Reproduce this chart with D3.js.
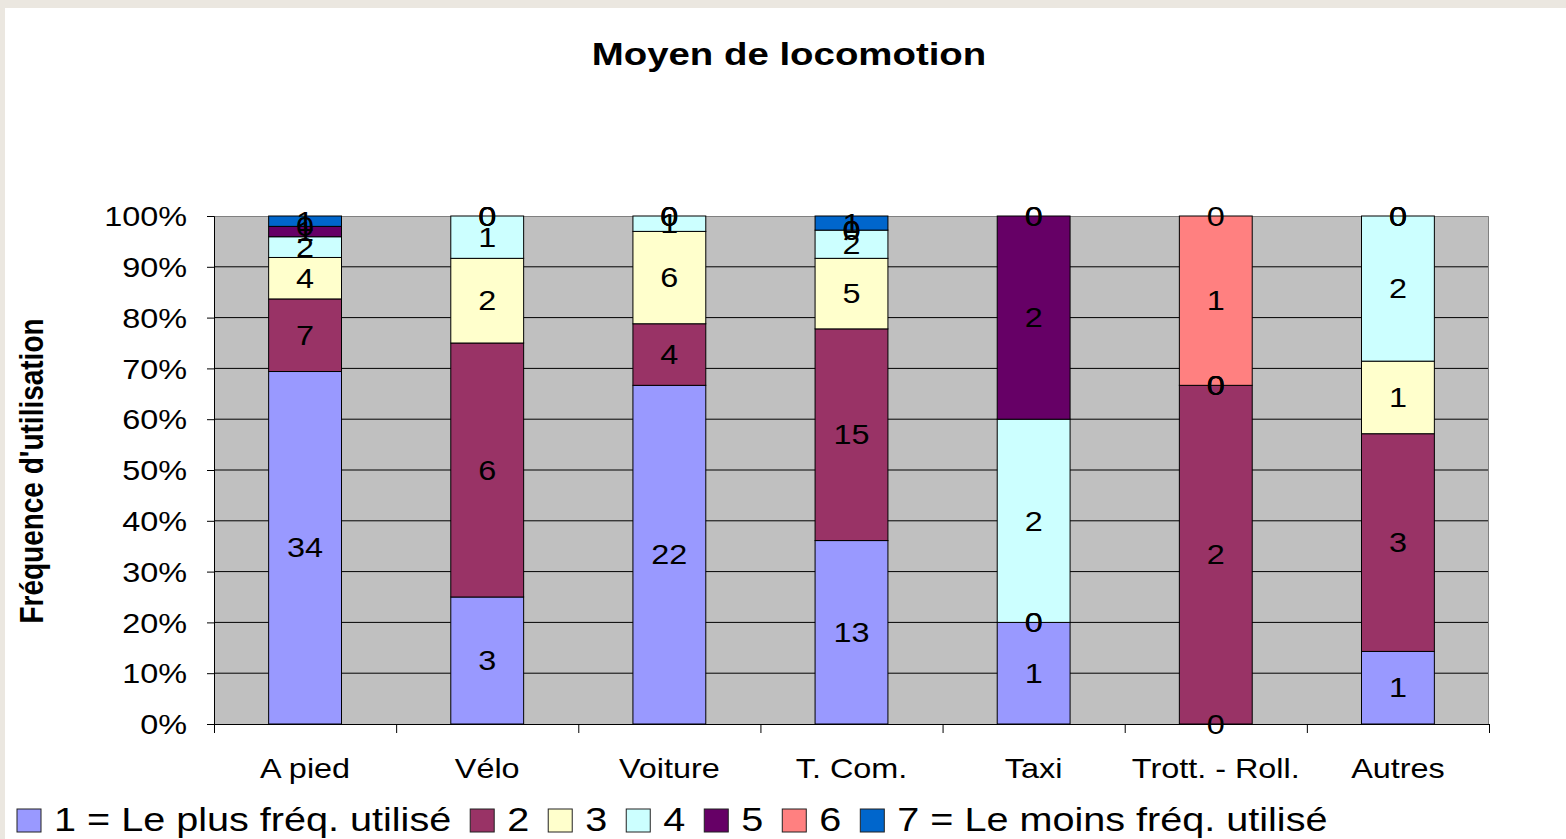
<!DOCTYPE html>
<html>
<head>
<meta charset="utf-8">
<script src="https://cdn.jsdelivr.net/npm/d3@7"></script>
<style>
  html, body { margin: 0; padding: 0; background: #fff; }
  svg { display: block; font-family: "Liberation Sans", Arial, sans-serif; }
</style>
</head>
<body>
<div id="chart"></div>
<script>
// categories (x axis)
const categories = ["A pied", "Vélo", "Voiture", "T. Com.", "Taxi", "Trott. - Roll.", "Autres"]
// series names (legend)
const seriesNames = ["1 = Le plus fréq. utilisé", "2", "3", "4", "5", "6", "7 = Le moins fréq. utilisé"]
const seriesColors = ["#9999FF", "#993366", "#FFFFCC", "#CCFFFF", "#660066", "#FF8080", "#0066CC"]
// counts per series, one value per category
const s1 = [34, 3, 22, 13, 1, 0, 1]
const s2 = [7, 6, 4, 15, 0, 2, 3]
const s3 = [4, 2, 6, 5, 0, 0, 1]
const s4 = [2, 1, 1, 2, 2, 0, 2]
const s5 = [1, 0, 0, 0, 2, 0, 0]
const s6 = [0, 0, 0, 0, 0, 1, 0]
const s7 = [1, 0, 0, 1, 0, 0, 0]
const yTicks = [0, 0.1, 0.2, 0.3, 0.4, 0.5, 0.6, 0.7, 0.8, 0.9, 1]

const allSeries = [s1, s2, s3, s4, s5, s6, s7]
const keys = seriesNames.map((_, i) => "s" + i)
const rows = categories.map((c, ci) => {
    const r = { cat: c }
    allSeries.forEach((s, si) => { r["s" + si] = s[ci] })
    return r
})

const W = 1566, H = 839
const margin = { top: 216, right: 77, bottom: 115, left: 214 }
const pw = W - margin.left - margin.right
const ph = H - margin.top - margin.bottom
const SX = 1.2 // text in the picture is stretched horizontally

const svg = d3.select("#chart").append("svg")
    .attr("width", W).attr("height", H)

// page frame
svg.append("rect").attr("width", W).attr("height", H).attr("fill", "#fff")
svg.append("rect").attr("width", W).attr("height", 8).attr("fill", "#ebe7e0")
svg.append("rect").attr("width", 5).attr("height", H).attr("fill", "#ebe7e0")

// title
svg.append("text")
    .attr("transform", `translate(789,65) scale(${SX},1)`)
    .attr("text-anchor", "middle")
    .attr("font-size", 32).attr("font-weight", "bold")
    .text("Moyen de locomotion")

// y axis title
svg.append("text")
    .attr("transform", `translate(43,471) rotate(-90) scale(1,${SX})`)
    .attr("text-anchor", "middle")
    .attr("font-size", 28).attr("font-weight", "bold")
    .text("Fréquence d'utilisation")

const g = svg.append("g").attr("transform", `translate(${margin.left},${margin.top})`)

const x = d3.scaleBand().domain(categories).range([0, pw]).paddingInner(0.6).paddingOuter(0.3)
const y = d3.scaleLinear().domain([0, 1]).range([ph, 0])

// plot background
g.append("rect").attr("width", pw).attr("height", ph).attr("fill", "#C0C0C0")

// gridlines
g.selectAll(".grid").data(yTicks.filter(d => d > 0 && d < 1)).join("line")
    .attr("x1", 0).attr("x2", pw)
    .attr("y1", d => y(d)).attr("y2", d => y(d))
    .attr("stroke", "#000").attr("stroke-width", 1)

// border top / right
g.append("path").attr("d", `M0,0.5H${pw - 0.5}V${ph}`).attr("fill", "none").attr("stroke", "#808080")

// stacked bars, 100%
const stack = d3.stack().keys(keys).offset(d3.stackOffsetExpand)
const stacked = stack(rows)

const layers = g.selectAll(".layer").data(stacked).join("g")
    .attr("fill", (d, i) => seriesColors[i])
layers.selectAll("rect").data(d => d).join("rect")
    .attr("x", d => x(d.data.cat))
    .attr("width", x.bandwidth())
    .attr("y", d => y(d[1]))
    .attr("height", d => y(d[0]) - y(d[1]))
    .attr("stroke", "#000").attr("stroke-width", 1)

// y axis
const yAxis = g.append("g")
    .call(d3.axisLeft(y).tickValues(yTicks).tickFormat(d3.format(".0%")).tickSize(7))
yAxis.select(".domain").attr("stroke", "#000")
yAxis.selectAll("text")
    .attr("x", null).attr("dy", "0.36em")
    .attr("transform", `translate(-27,0) scale(${SX},1)`)
    .attr("font-size", 27).attr("font-family", "Liberation Sans, Arial, sans-serif")
    .attr("fill", "#000")

// x axis: ticks at category boundaries
const xb = d3.scaleLinear().domain([0, categories.length]).range([0, pw])
const xAxis = g.append("g").attr("transform", `translate(0,${ph})`)
    .call(d3.axisBottom(xb).ticks(categories.length).tickFormat("").tickSize(9).tickSizeOuter(9))
xAxis.select(".domain").attr("stroke", "#000")

g.selectAll(".catlabel").data(categories).join("text")
    .attr("transform", d => `translate(${x(d) + x.bandwidth() / 2},${ph + 54}) scale(${SX},1)`)
    .attr("text-anchor", "middle")
    .attr("font-size", 27)
    .text(d => d)

// data labels (drawn for every segment, zeros included)
stacked.forEach((layer, si) => {
    g.append("g").selectAll("text").data(layer).join("text")
        .attr("transform", d => `translate(${x(d.data.cat) + x.bandwidth() / 2},${y((d[0] + d[1]) / 2)}) scale(${SX},1)`)
        .attr("text-anchor", "middle")
        .attr("dy", "0.36em")
        .attr("font-size", 27)
        .text(d => allSeries[si][categories.indexOf(d.data.cat)])
})

// legend
const legend = svg.append("g").attr("transform", "translate(17,809)")
let lx = 0
seriesNames.forEach((name, i) => {
    const item = legend.append("g").attr("transform", `translate(${lx},0)`)
    item.append("rect").attr("width", 24).attr("height", 23)
        .attr("fill", seriesColors[i]).attr("stroke", "#222").attr("stroke-width", 1)
    const t = item.append("text")
        .attr("transform", `translate(37,22) scale(${SX},1)`)
        .attr("font-size", 33)
        .text(name)
    lx += 37 + t.node().getComputedTextLength() * SX + 19
})
</script>
</body>
</html>
